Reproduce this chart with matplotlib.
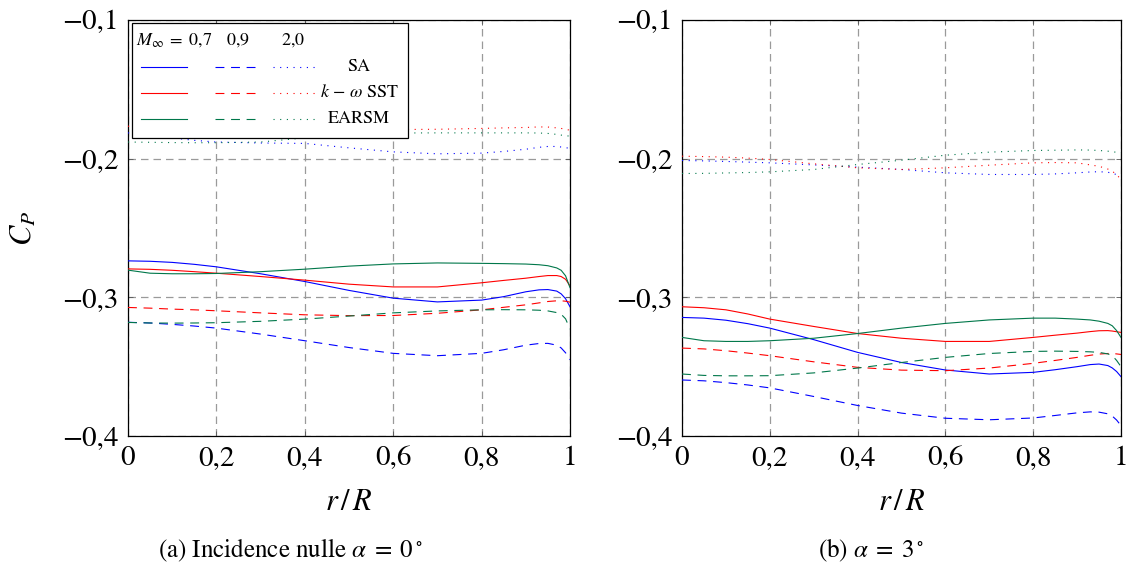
import matplotlib
matplotlib.use("Agg")
import matplotlib.pyplot as plt
from matplotlib.patches import Rectangle

# ------------------------------------------------------------
# DONNEES
# ------------------------------------------------------------
r_R = [0, 0.05, 0.1, 0.15, 0.2, 0.3, 0.4, 0.5, 0.6, 0.7, 0.8, 0.85,
       0.9, 0.93, 0.95, 0.97, 0.98, 0.99, 1.0]

# (a) incidence nulle
a_sa_07 = [-0.2737, -0.2740, -0.2748, -0.2762, -0.2780, -0.2830, -0.2886, -0.2950, -0.3006, -0.3033,
           -0.3020, -0.2995, -0.2960, -0.2946, -0.2944, -0.2955, -0.2975, -0.3010, -0.3068]
a_sst_07 = [-0.2795, -0.2798, -0.2805, -0.2815, -0.2826, -0.2850, -0.2876, -0.2905, -0.2925, -0.2925,
            -0.2895, -0.2878, -0.2862, -0.2850, -0.2843, -0.2843, -0.2850, -0.2870, -0.2917]
a_earsm_07 = [-0.2804, -0.2826, -0.2830, -0.2830, -0.2828, -0.2815, -0.2797, -0.2775, -0.2759, -0.2752,
              -0.2755, -0.2757, -0.2760, -0.2765, -0.2772, -0.2788, -0.2805, -0.2845, -0.2930]
a_sa_09 = [-0.3180, -0.3185, -0.3195, -0.3207, -0.3222, -0.3265, -0.3313, -0.3362, -0.3404, -0.3421,
           -0.3404, -0.3378, -0.3345, -0.3333, -0.3332, -0.3345, -0.3365, -0.3400, -0.3450]
a_sst_09 = [-0.3073, -0.3078, -0.3085, -0.3090, -0.3097, -0.3112, -0.3126, -0.3132, -0.3131, -0.3115,
            -0.3090, -0.3072, -0.3054, -0.3040, -0.3030, -0.3025, -0.3025, -0.3028, -0.3035]
a_earsm_09 = [-0.3181, -0.3185, -0.3186, -0.3185, -0.3183, -0.3173, -0.3157, -0.3135, -0.3112, -0.3098,
              -0.3090, -0.3089, -0.3090, -0.3093, -0.3098, -0.3110, -0.3122, -0.3155, -0.3229]
a_sa_20 = [-0.1814, -0.1830, -0.1850, -0.1868, -0.1880, -0.1887, -0.1890, -0.1922, -0.1951, -0.1965,
           -0.1960, -0.1948, -0.1932, -0.1918, -0.1912, -0.1912, -0.1916, -0.1920, -0.1927]
a_sst_20 = [-0.1766, -0.1770, -0.1775, -0.1779, -0.1782, -0.1787, -0.1790, -0.1791, -0.1790, -0.1788,
            -0.1782, -0.1778, -0.1775, -0.1771, -0.1772, -0.1778, -0.1782, -0.1788, -0.1795]
a_earsm_20 = [-0.1880, -0.1882, -0.1884, -0.1885, -0.1885, -0.1880, -0.1850, -0.1825, -0.1815, -0.1814,
              -0.1814, -0.1814, -0.1814, -0.1815, -0.1818, -0.1825, -0.1830, -0.1834, -0.1838]

# (b) alpha = 3 deg
b_sa_07 = [-0.3145, -0.3150, -0.3165, -0.3190, -0.3222, -0.3305, -0.3397, -0.3470, -0.3524, -0.3553,
           -0.3541, -0.3522, -0.3500, -0.3485, -0.3481, -0.3492, -0.3509, -0.3535, -0.3572]
b_sst_07 = [-0.3068, -0.3075, -0.3090, -0.3120, -0.3157, -0.3210, -0.3261, -0.3295, -0.3318, -0.3318,
            -0.3289, -0.3273, -0.3258, -0.3247, -0.3241, -0.3240, -0.3243, -0.3248, -0.3253]
b_earsm_07 = [-0.3289, -0.3313, -0.3318, -0.3318, -0.3313, -0.3295, -0.3261, -0.3222, -0.3188, -0.3163,
              -0.3150, -0.3150, -0.3157, -0.3163, -0.3172, -0.3188, -0.3205, -0.3240, -0.3289]
b_sa_09 = [-0.3596, -0.3602, -0.3615, -0.3632, -0.3653, -0.3715, -0.3780, -0.3835, -0.3872, -0.3883,
           -0.3870, -0.3852, -0.3833, -0.3826, -0.3828, -0.3840, -0.3856, -0.3885, -0.3925]
b_sst_09 = [-0.3366, -0.3372, -0.3385, -0.3402, -0.3421, -0.3465, -0.3505, -0.3525, -0.3529, -0.3510,
            -0.3476, -0.3455, -0.3433, -0.3418, -0.3409, -0.3405, -0.3405, -0.3408, -0.3412]
b_earsm_09 = [-0.3553, -0.3563, -0.3566, -0.3566, -0.3565, -0.3545, -0.3510, -0.3470, -0.3433, -0.3405,
              -0.3390, -0.3388, -0.3390, -0.3393, -0.3397, -0.3408, -0.3420, -0.3455, -0.3500]
b_sa_20 = [-0.2013, -0.2016, -0.2020, -0.2025, -0.2030, -0.2045, -0.2061, -0.2078, -0.2102, -0.2114,
           -0.2114, -0.2110, -0.2102, -0.2096, -0.2094, -0.2098, -0.2105, -0.2115, -0.2126]
b_sst_20 = [-0.1982, -0.1985, -0.1989, -0.1996, -0.2006, -0.2037, -0.2066, -0.2078, -0.2066, -0.2047,
            -0.2030, -0.2028, -0.2030, -0.2045, -0.2055, -0.2075, -0.2090, -0.2115, -0.2150]
b_earsm_20 = [-0.2107, -0.2106, -0.2103, -0.2100, -0.2095, -0.2078, -0.2042, -0.2011, -0.1975, -0.1953,
              -0.1941, -0.1939, -0.1937, -0.1938, -0.1941, -0.1946, -0.1950, -0.1954, -0.1958]

x_ticks = [0, 0.2, 0.4, 0.6, 0.8, 1.0]
x_labels = ["0", "0,2", "0,4", "0,6", "0,8", "1"]
y_ticks = [-0.4, -0.3, -0.2, -0.1]
y_labels = ["\u22120,4", "\u22120,3", "\u22120,2", "\u22120,1"]

modeles = ["SA", r"$k\,-\,\omega$ SST", "EARSM"]
mach_labels = [r"$M_\infty\;=\;0{,}7$", r"$0{,}9$", r"$2{,}0$"]
captions = [r"(a) Incidence nulle $\alpha\;=\;0^\circ$", r"(b) $\alpha\;=\;3^\circ$"]

# ------------------------------------------------------------
# STYLE
# ------------------------------------------------------------
plt.rcParams["font.family"] = "STIXGeneral"
plt.rcParams["mathtext.fontset"] = "stix"

BLUE, RED, GREEN = "#0000ff", "#ff0000", "#00774a"
COLORS = [BLUE, RED, GREEN]
LS = ["-", (0, (8, 6)), (0, (1, 5))]
LW = 0.8

panels = [
    [[a_sa_07, a_sa_09, a_sa_20], [a_sst_07, a_sst_09, a_sst_20], [a_earsm_07, a_earsm_09, a_earsm_20]],
    [[b_sa_07, b_sa_09, b_sa_20], [b_sst_07, b_sst_09, b_sst_20], [b_earsm_07, b_earsm_09, b_earsm_20]],
]

fig = plt.figure(figsize=(11.31, 5.65), dpi=100)
W, H = 1131, 565
axes = [
    fig.add_axes([128 / W, 1 - 436 / H, 442 / W, 416 / H]),
    fig.add_axes([682 / W, 1 - 436 / H, 439 / W, 416 / H]),
]

for ax, series in zip(axes, panels):
    for col, runs in zip(COLORS, series):
        for ls, y in zip(LS, runs):
            ax.plot(r_R, y, color=col, linestyle=ls, linewidth=LW, zorder=3)
    ax.set_xlim(0, 1)
    ax.set_ylim(-0.4, -0.1)
    ax.set_xticks(x_ticks)
    ax.set_xticklabels(x_labels)
    ax.set_yticks(y_ticks)
    ax.set_yticklabels(y_labels)
    ax.tick_params(direction="in", length=3.5, width=0.6, color="#555555",
                   top=True, right=True, labelsize=21, pad=7)
    ax.grid(True, color="#9a9a9a", linestyle=(0, (6, 4)), linewidth=0.9)
    ax.set_axisbelow(True)
    for sp in ax.spines.values():
        sp.set_linewidth(0.9)
    ax.set_xlabel(r"$r\,/\,R$", fontsize=22, va="center")
    ax.xaxis.set_label_coords(0.5, -0.161)

axes[0].set_ylabel(r"$C_P$", fontsize=22, va="center")
axes[0].yaxis.set_label_coords(-0.235, 0.5)

fig.text(290 / W, 1 - 550 / H, captions[0], fontsize=18, ha="center", va="center")
fig.text(871 / W, 1 - 550 / H, captions[1], fontsize=18, ha="center", va="center")

# ------------------------------------------------------------
# LEGENDE (tableau Mach x modele, dessinee a la main)
# ------------------------------------------------------------
ax = axes[0]
ax.add_patch(Rectangle((0.009, 0.716), 0.624, 0.277, transform=ax.transAxes,
                       facecolor="white", edgecolor="black", linewidth=0.9, zorder=5))
ax.text(0.018, 0.952, mach_labels[0], transform=ax.transAxes, fontsize=13,
        ha="left", va="center", zorder=6)
ax.text(0.249, 0.952, mach_labels[1], transform=ax.transAxes, fontsize=13,
        ha="center", va="center", zorder=6)
ax.text(0.374, 0.952, mach_labels[2], transform=ax.transAxes, fontsize=13,
        ha="center", va="center", zorder=6)
row_y = [0.887, 0.825, 0.762]
seg_x = [(0.029, 0.133), (0.197, 0.287), (0.328, 0.430)]
for yy, col, name in zip(row_y, COLORS, modeles):
    for (x0, x1), ls in zip(seg_x, LS):
        ax.plot([x0, x1], [yy, yy], transform=ax.transAxes, color=col,
                linestyle=ls, linewidth=LW, zorder=6)
    ax.text(0.523, yy, name, transform=ax.transAxes, fontsize=13,
            ha="center", va="center", zorder=6)

plt.savefig("out.png", dpi=100)
